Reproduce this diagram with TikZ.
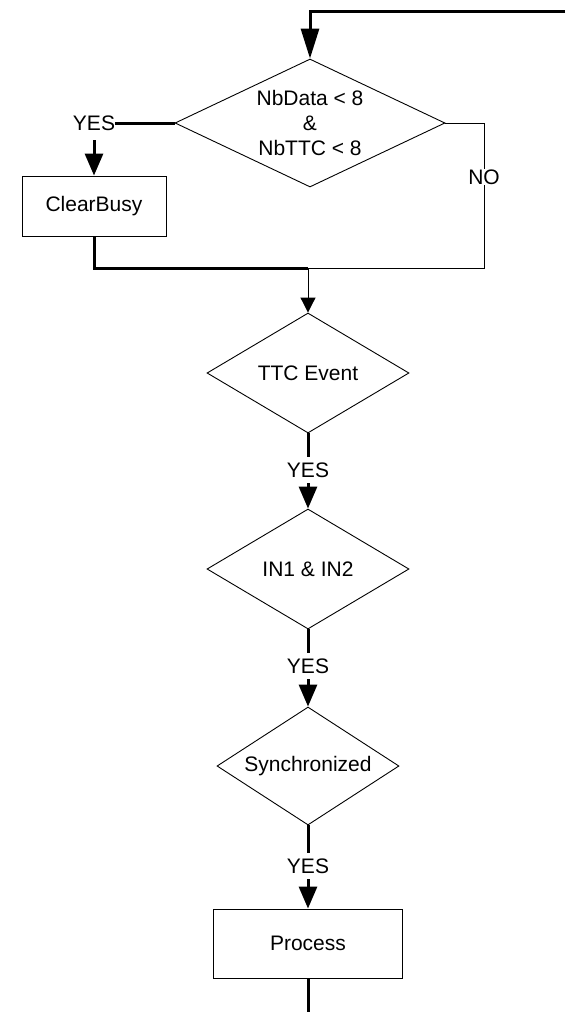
\documentclass[tikz,border=0pt]{standalone}
\usepackage{fontspec}
\setmainfont{Liberation Sans}
\usetikzlibrary{shapes.geometric,arrows.meta}
\begin{document}
\begin{tikzpicture}[x=1pt,y=-1pt,
  every node/.style={font=\fontsize{21}{25}\selectfont},
  thinline/.style={line width=1pt},
  thickline/.style={line width=3pt,line join=miter},
  decision/.style={draw,diamond,line width=0.9pt,inner sep=0pt,align=center},
  stepbox/.style={draw,rectangle,line width=0.9pt,inner sep=0pt},
  lbl/.style={inner sep=0pt,minimum height=26pt},
  bigtip/.style={-{Triangle[length=22pt,width=18pt]}},
  toptip/.style={-{Triangle[length=30pt,width=18pt]}},
  smalltip/.style={-{Triangle[length=15pt,width=15pt]}}]
\useasboundingbox (0,0) rectangle (565,1012);

% nodes
\node[decision,shape aspect=2.1,minimum width=270pt,minimum height=128pt] (d1) at (310,123) {NbData < 8\\\&\\NbTTC < 8};
\node[lbl,minimum height=34pt] (yes1) at (94,123) {YES};
\node[stepbox,minimum width=144pt,minimum height=60pt] (clear) at (94,206) {ClearBusy};
\node[decision,shape aspect=1.68,minimum width=202pt,minimum height=120pt] (d2) at (308,373) {TTC Event};
\node[lbl] (yes2) at (308,470) {YES};
\node[decision,shape aspect=1.68,minimum width=202pt,minimum height=120pt] (d3) at (308,569) {IN1 \& IN2};
\node[lbl] (yes3) at (308,666) {YES};
\node[decision,shape aspect=1.5,minimum width=182pt,minimum height=118pt] (d4) at (308,766) {Synchronized};
\node[lbl] (yes4) at (308,866) {YES};
\node[stepbox,minimum width=189pt,minimum height=69pt] (proc) at (308,943.5) {Process};

\coordinate (start) at (565,11);
\coordinate (topc) at (310,11);
\coordinate (cb) at (94,268);
\coordinate (j) at (308,268);
\coordinate (no1) at (484,123);
\coordinate (no2) at (484,268);
\coordinate (endp) at (308,1012);

% connectors
\draw[thickline,toptip] (start) -- (topc) -- (d1.north);
\draw[thickline] (d1.west) -- (yes1.east);
\draw[thickline,bigtip] (yes1.south) -- (clear.north);
\draw[thickline] (clear.south) -- (cb) -- (j);
\draw[thinline] (d1.east) -- (no1) -- (no2) -- (j);
\node[fill=white,inner sep=1pt] (no) at (484,177) {NO};
\draw[thinline,smalltip] (j) -- (d2.north);
\draw[thickline] (d2.south) -- (yes2.north);
\draw[thickline,bigtip] (yes2.south) -- (d3.north);
\draw[thickline] (d3.south) -- (yes3.north);
\draw[thickline,bigtip] (yes3.south) -- (d4.north);
\draw[thickline] (d4.south) -- (yes4.north);
\draw[thickline,bigtip] (yes4.south) -- (proc.north);
\draw[thickline] (proc.south) -- (endp);
\end{tikzpicture}
\end{document}
